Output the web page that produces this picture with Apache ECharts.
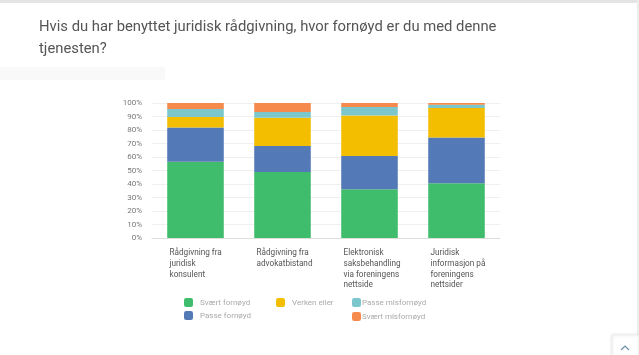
<!DOCTYPE html>
<html><head><meta charset="utf-8">
<script src="https://cdn.jsdelivr.net/npm/echarts@6/dist/echarts.min.js"></script>
<style>html,body{margin:0;padding:0;background:#fff}#c{width:639px;height:355px}</style>
</head><body><div id="c"></div>
<script>
const categories = ['Rådgivning fra\njuridisk\nkonsulent','Rådgivning fra\nadvokatbistand','Elektronisk\nsaksbehandling\nvia foreningens\nnettside','Juridisk\ninformasjon på\nforeningens\nnettsider'];
const seriesNames = ['Svært fornøyd','Passe fornøyd','Verken eller','Passe misfornøyd','Svært misfornøyd'];
const sværtFornøyd = [56.5, 48.9, 36.2, 40.5];
const passeFornøyd = [25.3, 19.3, 24.6, 33.9];
const verkenEller = [7.8, 20.9, 30.0, 21.9];
const passeMisfornøyd = [5.9, 4.2, 6.2, 2.4];
const sværtMisfornøyd = [4.5, 6.7, 3.0, 1.3];
const colors = ['#3fbc6c','#5379b7','#f4be00','#7cc7cc','#f58a4c'];
const values = [sværtFornøyd, passeFornøyd, verkenEller, passeMisfornøyd, sværtMisfornøyd];

const chart = echarts.init(document.getElementById('c'));
const legendPos = [[184,298],[184,311],[276,298],[352,298],[352,312]];
const legends = seriesNames.map((n,i)=>({
  data:[n], left:legendPos[i][0], top:legendPos[i][1], orient:'horizontal',
  itemWidth:9, itemHeight:9, itemGap:0, padding:0, icon:'roundRect',
  selectedMode:false,
  textStyle:{fontFamily:'Roboto', fontSize:8, color:'#aaa', padding:[0,0,0, i>=3 ? -4 : 2]}
}));
chart.setOption({
  animation:false,
  textStyle:{fontFamily:'Roboto'},
  title:{text:'Hvis du har benyttet juridisk rådgivning, hvor fornøyd er du med denne\ntjenesten?',
    left:39, top:16, padding:0,
    textStyle:{fontFamily:'Roboto', fontWeight:'normal', fontSize:14.8, lineHeight:22.5, color:'#555'}},
  legend: legends,
  grid:{left:152, right:139, top:103, bottom:117},
  xAxis:{type:'category', data:categories,
    axisLine:{lineStyle:{color:'#ddd'}}, axisTick:{show:false},
    axisLabel:{align:'left', verticalAlign:'top', margin:10, fontSize:8.2, lineHeight:10.6, color:'#555', padding:[0,0,0,-26], interval:0}},
  yAxis:{type:'value', min:0, max:100, interval:10,
    axisLabel:{formatter:'{value}%', fontSize:8, color:'#777', margin:10},
    splitLine:{lineStyle:{color:'#efefef'}}},
  series: seriesNames.map((n,i)=>({name:n, type:'bar', stack:'s', data:values[i], barWidth:'65%',
    itemStyle:{color:colors[i]}})),
  graphic:[
    {type:'rect', shape:{x:0,y:0,width:639,height:3}, style:{fill:'#e4e4e4'}, silent:true},
    {type:'rect', shape:{x:637,y:0,width:2,height:355}, style:{fill:'#ececec'}, silent:true},
    {type:'rect', shape:{x:0,y:67,width:165,height:13}, style:{fill:'#f9f9f9'}, silent:true},
    {type:'rect', shape:{x:612,y:335,width:27,height:22}, style:{fill:'#fff', stroke:'#eee', lineWidth:1, shadowBlur:3, shadowColor:'rgba(0,0,0,0.12)'}, silent:true},
    {type:'polyline', shape:{points:[[621,350],[625,346],[629,350]]}, style:{stroke:'#6a8fa8', lineWidth:1.2, fill:null}, silent:true}
  ]
});
</script></body></html>
